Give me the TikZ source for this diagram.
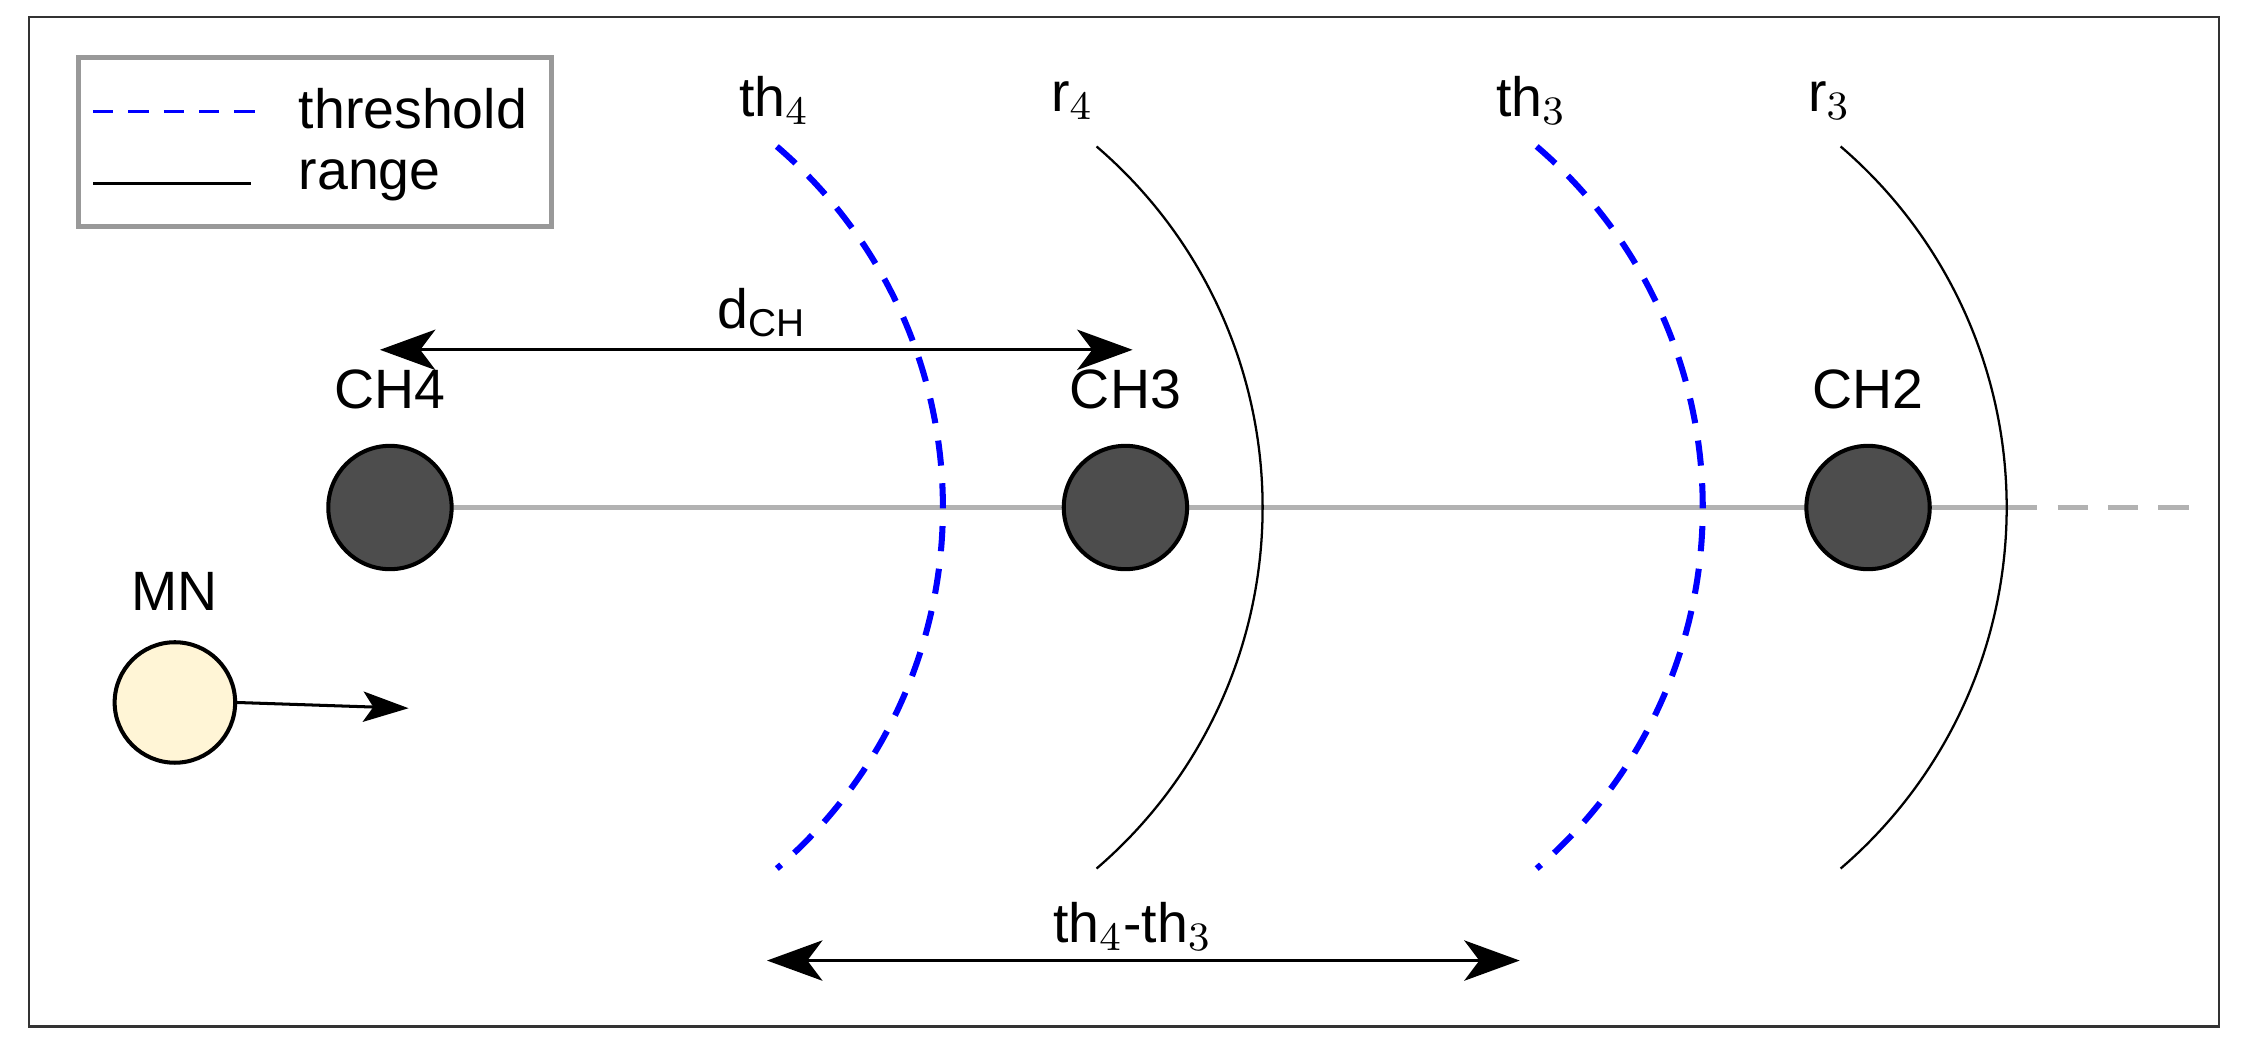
\documentclass[tikz,border=0pt]{standalone}
\usepackage{fontspec}
\setmainfont{Liberation Sans}
\usetikzlibrary{arrows.meta,positioning}
\definecolor{chgray}{HTML}{4D4D4D}
\definecolor{mnfill}{HTML}{FFF5D6}
\begin{document}
\begin{tikzpicture}[x=0.01cm, y=-0.01cm,
                    line cap=butt,
                    every node/.style={font=\fontsize{11}{13}\selectfont},
                    head/.style={circle, draw=black, thick, fill=chgray, minimum size=0.86cm, inner sep=0pt},
                    mobile/.style={circle, draw=black, thick, fill=mnfill, minimum size=0.84cm, inner sep=0pt},
                    thresh/.style={blue, line width=1.2pt, dash pattern=on 5pt off 3.5pt},
                    rangeline/.style={black, line width=0.45pt},
                    dist/.style={black, line width=0.6pt, {Stealth[length=11pt,width=8pt,inset=3pt]}-{Stealth[length=11pt,width=8pt,inset=3pt]}}]
  \def\R{331.7}
  \def\ang{49.4}

  % frame
  \useasboundingbox (0,0) rectangle (1568,737);
  \draw[black!80, line width=0.4pt] (20,12) rectangle (1548,716);

  % legend
  \draw[black!40, line width=1pt] (55,40) rectangle (385,158);
  \draw[thresh, line width=0.6pt, dash pattern=on 4pt off 3pt] (65,78) -- (180,78);
  \node[anchor=west] at (196,76) {threshold};
  \draw[rangeline] (65,128) -- (175,128);
  \node[anchor=west] at (196,126) {range};

  % backbone
  \draw[black!30, line width=0.9pt] (272,354) -- (1400,354);
  \draw[black!30, line width=0.9pt, dash pattern=on 6pt off 4pt] (1400,354) -- (1528,354);

  % cluster heads
  \node[head] (ch4) at (272,354) {};
  \node[head] (ch3) at (785,354) {};
  \node[head] (ch2) at (1303,354) {};
  \node[above=0.12cm of ch4] {CH4};
  \node[above=0.12cm of ch3] {CH3};
  \node[above=0.12cm of ch2] {CH2};

  % mobile node
  \node[mobile] (mn) at (122,490) {};
  \node[above=0.08cm of mn] {MN};
  \coordinate (mnend) at (285,494);
  \draw[rangeline, line width=0.6pt, -{Stealth[length=9pt,width=6pt,inset=2pt]}] (mn.east) -- (mnend);

  % thresholds and ranges
  \draw[thresh] (326,354) ++(-\ang:\R) arc (-\ang:\ang:\R);
  \draw[rangeline]  (549,354) ++(-\ang:\R) arc (-\ang:\ang:\R);
  \draw[thresh] (856,354) ++(-\ang:\R) arc (-\ang:\ang:\R);
  \draw[rangeline]  (1068,354) ++(-\ang:\R) arc (-\ang:\ang:\R);
  \node (th4) at (540,70) {th$_4$};
  \node (r4)  at (748,70) {r$_4$};
  \node (th3) at (1068,70) {th$_3$};
  \node (r3)  at (1276,70) {r$_3$};

  % distances
  \coordinate (dA) at (265,244);
  \coordinate (dB) at (790,244);
  \draw[dist] (dA) -- (dB);
  \node at (532,218) {d$_{\mathrm{CH}}$};
  \coordinate (tA) at (535,670);
  \coordinate (tB) at (1060,670);
  \draw[dist] (tA) -- (tB);
  \node at (790,646) {th$_4$-th$_3$};
\end{tikzpicture}
\end{document}
